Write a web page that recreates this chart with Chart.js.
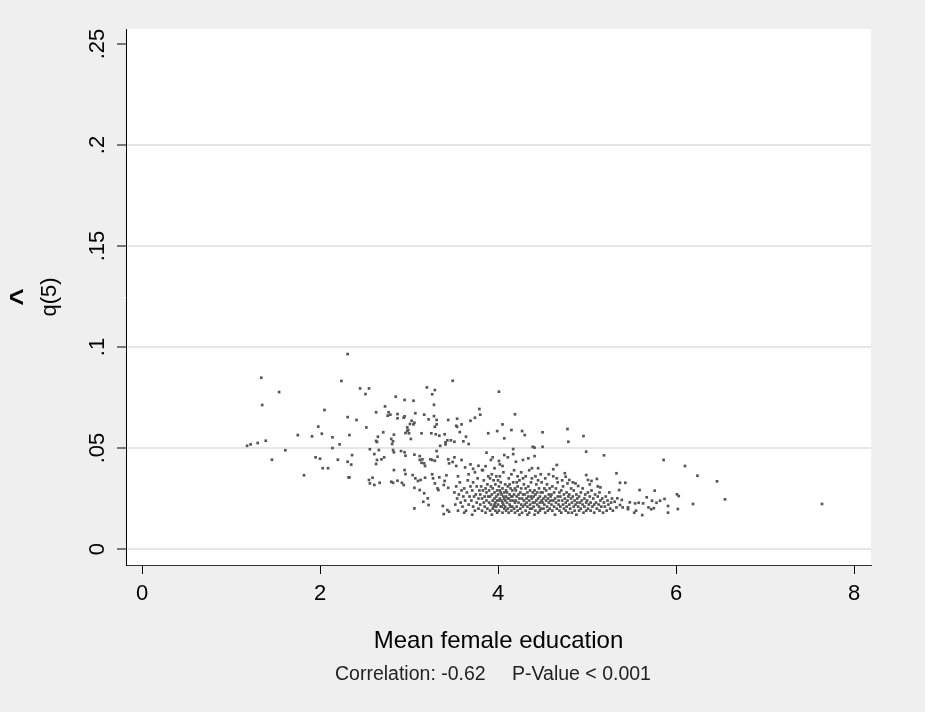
<!DOCTYPE html>
<html>
<head>
<meta charset="utf-8">
<script src="https://cdn.jsdelivr.net/npm/chart.js@4.4.0/dist/chart.umd.min.js"></script>
<style>
  html, body { margin: 0; padding: 0; background: #efefef; }
  canvas { display: block; }
</style>
</head>
<body>
<canvas id="q5Chart" width="925" height="712"></canvas>
<script>
// axis ticks
const xTickValues = [0, 2, 4, 6, 8];
const yTickValues = [0, 0.05, 0.1, 0.15, 0.2, 0.25];
const yTickLabels = ['0', '.05', '.1', '.15', '.2', '.25'];

const xTitle = 'Mean female education';
const yTitle = 'q(5)';
const noteLeft = 'Correlation: -0.62';
const noteRight = 'P-Value < 0.001';

// [mean female education, q(5)]
const lowEduPoints = [
  [1.18,.0511],[1.22,.0518],[1.30,.0525],[1.34,.0848],[1.35,.0713],[1.39,.0536],[1.46,.0442],
  [1.54,.0777],[1.61,.0489],[1.75,.0564],[1.82,.0365],[1.91,.0558],[1.95,.0454],[1.98,.0606],
  [2.00,.0447],[2.02,.0571],[2.03,.0400],[2.05,.0688],[2.09,.0400],[2.14,.0553],[2.14,.0500],
  [2.20,.0442],[2.22,.0518],[2.24,.0832],[2.31,.0965],[2.31,.0653],[2.31,.0432],[2.32,.0355],
  [2.33,.0355],[2.33,.0564],[2.35,.0418],[2.36,.0465]
];

const midEduPoints = [
  [3.49,.0833],[2.45,.0795],[2.55,.0795],[2.51,.0767],[3.20,.0800],[3.29,.0787],[3.26,.0766],
  [2.85,.0754],[2.95,.0738],[3.05,.0734],[3.28,.0714],[2.73,.0706],[2.63,.0677],[2.77,.0677],
  [2.79,.0665],[2.76,.0660],[2.87,.0668],[2.87,.0647],[3.07,.0672],[3.17,.0665],[3.28,.0658],
  [3.22,.0642],[2.95,.0657],[2.94,.0650],[2.41,.0639],[3.03,.0635],[3.06,.0625],[3.01,.0619],
  [3.05,.0617],[3.31,.0639],[3.31,.0617],[3.29,.0605],[3.44,.0639],[3.54,.0645],[3.53,.0610],
  [3.59,.0617],[3.69,.0635],[3.74,.0650],[3.79,.0693],[3.80,.0665],[2.52,.0602],[2.98,.0602],
  [2.98,.0584],[2.96,.0574],[3.00,.0573],[2.99,.0589],[3.14,.0573],[3.25,.0573],[3.30,.0568],
  [3.34,.0561],[2.71,.0578],[2.65,.0556],[2.64,.0530],[2.63,.0535],[2.83,.0566],[2.80,.0545],
  [2.82,.0533],[2.81,.0520],[3.02,.0545],[3.40,.0568],[3.43,.0538],[3.41,.0528],[3.47,.0538],
  [3.51,.0531],[3.54,.0605],[3.57,.0579],[3.64,.0556],[3.61,.0533],[3.67,.0520],[3.35,.0511],
  [3.31,.0485],[3.41,.0518],[2.56,.0494],[2.66,.0490],[2.61,.0470],[2.69,.0444],[2.72,.0454],
  [2.64,.0441],[2.63,.0421],[2.82,.0490],[2.83,.0479],[2.91,.0485],[2.95,.0479],[2.96,.0462],
  [3.06,.0467],[3.12,.0460],[3.12,.0441],[3.15,.0444],[3.17,.0424],[3.14,.0427],[3.18,.0411],
  [3.24,.0444],[3.29,.0437],[3.26,.0441],[3.32,.0457],[3.44,.0444],[3.51,.0454],[3.45,.0424],
  [3.49,.0431],[3.53,.0411],[3.59,.0441],[3.63,.0404],[3.69,.0419],[3.72,.0397],[3.78,.0412],
  [3.82,.0391],[2.83,.0391],[2.95,.0391],[2.96,.0371],[2.55,.0342],[2.59,.0353],[2.56,.0325],
  [2.61,.0317],[2.67,.0328],[2.80,.0333],[2.82,.0328],[2.87,.0338],[2.92,.0328],[2.94,.0317],
  [3.04,.0366],[3.07,.0350],[3.10,.0337],[3.13,.0342],[3.06,.0303],[3.18,.0353],[3.26,.0370],
  [3.27,.0350],[3.29,.0325],[3.32,.0300],[3.34,.0355],[3.40,.0337],[3.42,.0365],[3.12,.0292],
  [3.17,.0276],[3.21,.0251],[3.16,.0234],[3.22,.0218],[3.33,.0292],[3.39,.0317],[3.44,.0303],
  [3.06,.0201],[3.38,.0213],[3.43,.0193],[3.39,.0173],[3.45,.0185]
];

const upperBandPoints = [
  [4.01,.0779],[4.19,.0667],[4.05,.0617],[3.99,.0584],[4.15,.0589],[4.07,.0548],[3.89,.0573],
  [4.27,.0584],[4.30,.0564],[4.50,.0578],[4.50,.0506],[4.78,.0594],[4.79,.0531],[4.96,.0559],
  [4.39,.0506],[4.41,.0502],[4.99,.0482],[5.19,.0464],[4.17,.0495],[4.17,.0470],[4.07,.0465],
  [4.11,.0454],[3.87,.0477],[3.94,.0454],[3.92,.0441],[4.01,.0436],[4.02,.0419],[4.05,.0411],
  [4.20,.0432],[4.28,.0441],[4.34,.0449],[4.41,.0460],[4.38,.0400],[4.45,.0400],[4.62,.0395],
  [4.66,.0416],[4.75,.0375],[4.76,.0358],[4.80,.0342],[4.78,.0325],[4.87,.0325],[4.90,.0312],
  [4.99,.0366],[5.01,.0342],[5.05,.0337],[5.11,.0347],[5.15,.0305]
];

const denseBandPoints = [
  [3.51,.028],[3.52,.022],[3.53,.031],[3.54,.025],[3.55,.019],[3.56,.027],[3.57,.033],[3.58,.023],[3.59,.029],[3.55,.036],
  [3.60,.021],[3.61,.026],[3.62,.030],[3.63,.024],[3.64,.019],[3.65,.028],[3.66,.034],[3.67,.022],[3.68,.026],[3.69,.031],[3.62,.018],[3.67,.037],
  [3.70,.024],[3.71,.029],[3.72,.021],[3.72,.033],[3.73,.026],[3.74,.019],[3.75,.027],[3.76,.023],[3.76,.031],[3.77,.035],[3.78,.020],[3.78,.025],[3.79,.029],[3.74,.038],[3.71,.017],
  [3.80,.022],[3.80,.027],[3.81,.031],[3.82,.019],[3.82,.025],[3.83,.029],[3.84,.023],[3.84,.034],[3.85,.021],[3.85,.026],[3.86,.030],[3.86,.018],[3.87,.024],[3.87,.028],[3.88,.032],[3.88,.020],[3.89,.026],[3.89,.036],[3.83,.039],[3.86,.041],
  [3.90,.023],[3.90,.029],[3.91,.019],[3.91,.026],[3.92,.031],[3.92,.022],[3.93,.027],[3.93,.017],[3.94,.024],[3.94,.030],[3.95,.021],[3.95,.034],[3.96,.025],[3.96,.028],[3.97,.019],[3.97,.023],[3.97,.032],[3.98,.026],[3.98,.021],[3.99,.029],[3.99,.024],[3.99,.018],[3.93,.037],[3.96,.040],[3.91,.035],[3.98,.036],[3.94,.020],[3.96,.022],
  [4.00,.022],[4.00,.027],[4.01,.031],[4.01,.019],[4.02,.025],[4.02,.029],[4.03,.021],[4.03,.033],[4.04,.024],[4.04,.027],[4.05,.018],[4.05,.030],[4.06,.022],[4.06,.026],[4.07,.028],[4.07,.020],[4.08,.024],[4.08,.032],[4.09,.019],[4.09,.026],[4.01,.024],[4.03,.028],[4.05,.023],[4.07,.025],[4.09,.029],[4.02,.036],[4.06,.038],[4.04,.021],[4.08,.021],[4.00,.034],
  [4.10,.023],[4.10,.028],[4.11,.020],[4.11,.031],[4.12,.025],[4.12,.018],[4.13,.027],[4.13,.022],[4.14,.030],[4.14,.024],[4.15,.019],[4.15,.026],[4.16,.029],[4.16,.021],[4.17,.024],[4.17,.033],[4.18,.020],[4.18,.027],[4.19,.023],[4.19,.030],[4.12,.035],[4.15,.037],[4.18,.039],[4.11,.025],[4.14,.021],[4.16,.026],[4.19,.018],[4.13,.032],
  [4.20,.024],[4.20,.029],[4.21,.021],[4.21,.026],[4.22,.031],[4.22,.019],[4.23,.023],[4.23,.027],[4.24,.025],[4.24,.034],[4.25,.020],[4.25,.028],[4.26,.022],[4.26,.030],[4.27,.018],[4.27,.025],[4.28,.027],[4.28,.021],[4.29,.024],[4.29,.032],[4.22,.036],[4.26,.038],[4.24,.017],[4.28,.035],[4.21,.033],
  [4.30,.022],[4.30,.027],[4.31,.030],[4.31,.019],[4.32,.025],[4.32,.023],[4.33,.028],[4.33,.021],[4.34,.026],[4.34,.031],[4.35,.018],[4.35,.024],[4.36,.029],[4.36,.022],[4.37,.026],[4.37,.033],[4.38,.020],[4.38,.025],[4.39,.028],[4.39,.023],[4.31,.036],[4.35,.039],[4.38,.035],[4.33,.017],[4.36,.020],
  [4.40,.021],[4.40,.026],[4.41,.029],[4.41,.023],[4.42,.019],[4.42,.027],[4.43,.024],[4.43,.032],[4.44,.022],[4.44,.028],[4.45,.025],[4.45,.018],[4.46,.030],[4.46,.021],[4.47,.026],[4.47,.023],[4.48,.028],[4.48,.020],[4.49,.024],[4.49,.033],[4.42,.036],[4.45,.034],[4.48,.037],[4.41,.017],[4.47,.019],
  [4.50,.023],[4.50,.028],[4.51,.020],[4.51,.025],[4.52,.030],[4.52,.022],[4.53,.026],[4.53,.018],[4.54,.024],[4.54,.029],[4.55,.021],[4.55,.032],[4.56,.025],[4.56,.019],[4.57,.027],[4.57,.023],[4.58,.020],[4.58,.030],[4.59,.024],[4.59,.026],[4.53,.035],[4.57,.037],
  [4.60,.022],[4.60,.027],[4.61,.019],[4.61,.031],[4.62,.024],[4.63,.021],[4.63,.028],[4.64,.025],[4.64,.017],[4.65,.023],[4.65,.030],[4.66,.020],[4.67,.026],[4.67,.033],[4.68,.022],[4.68,.024],[4.69,.028],[4.69,.019],[4.62,.036],[4.66,.035],
  [4.70,.021],[4.70,.026],[4.71,.029],[4.71,.018],[4.72,.024],[4.73,.022],[4.73,.031],[4.74,.020],[4.74,.027],[4.75,.025],[4.76,.019],[4.76,.023],[4.77,.028],[4.77,.021],[4.78,.024],[4.79,.026],[4.79,.018],[4.72,.034],
  [4.80,.022],[4.80,.027],[4.81,.020],[4.82,.025],[4.82,.030],[4.83,.018],[4.83,.023],[4.84,.026],[4.85,.021],[4.85,.029],[4.86,.024],[4.86,.019],[4.87,.022],[4.88,.027],[4.88,.017],[4.89,.023],[4.89,.025],[4.84,.033],
  [4.90,.021],[4.91,.026],[4.91,.019],[4.92,.023],[4.93,.028],[4.93,.020],[4.94,.024],[4.95,.022],[4.95,.030],[4.96,.018],[4.97,.025],[4.97,.021],[4.98,.027],[4.99,.023],[4.99,.019],
  [5.00,.024],[5.01,.020],[5.01,.028],[5.02,.022],[5.03,.026],[5.04,.019],[5.04,.023],[5.05,.029],[5.06,.021],[5.07,.025],[5.08,.018],[5.08,.022],[5.09,.027],[5.03,.032],
  [5.10,.023],[5.11,.020],[5.12,.026],[5.13,.022],[5.14,.019],[5.14,.028],[5.15,.024],[5.16,.021],[5.17,.025],[5.18,.018],[5.19,.023],[5.12,.031],
  [5.20,.021],[5.21,.026],[5.22,.019],[5.23,.024],[5.24,.022],[5.25,.028],[5.26,.020],[5.27,.023],[5.28,.025],[5.29,.019]
];

const highEduPoints = [
  [5.86,.0441],[6.10,.0411],[6.24,.0363],[6.46,.0335],[6.55,.0246],[6.19,.0223],[6.01,.0271],
  [6.03,.0262],[6.02,.0198],[5.91,.0213],[5.91,.0180],[5.87,.0248],[5.82,.0239],[5.76,.0289],
  [5.78,.0229],[5.73,.0239],[5.72,.0197],[5.75,.0202],[5.69,.0206],[5.67,.0256],[5.63,.0226],
  [5.59,.0292],[5.58,.0229],[5.62,.0168],[5.54,.0226],[5.55,.0190],[5.53,.0180],[5.46,.0206],
  [5.46,.0197],[5.48,.0231],[5.43,.0328],[5.37,.0328],[5.36,.0292],[5.33,.0375],[5.39,.0243],
  [5.40,.0206],[5.34,.0251],[5.33,.0206],[5.37,.0218],[5.31,.0234],[7.64,.0223]
];

const allPoints = [...lowEduPoints, ...midEduPoints, ...upperBandPoints, ...denseBandPoints, ...highEduPoints]
  .map(p => ({ x: p[0], y: p[1] }));

const fontFamily = '"Liberation Sans", Arial, sans-serif';

// white plot region + hand placed titles (stata style)
const stataFrame = {
  id: 'stataFrame',
  beforeDraw(chart) {
    const { ctx, chartArea } = chart;
    ctx.save();
    ctx.fillStyle = '#ffffff';
    ctx.fillRect(chartArea.left, chartArea.top, chartArea.right - chartArea.left, chartArea.bottom - chartArea.top);
    ctx.restore();
  },
  afterDraw(chart) {
    const { ctx, chartArea } = chart;
    const yScale = chart.scales.y;
    ctx.save();
    ctx.fillStyle = '#000';
    ctx.textAlign = 'center';
    ctx.textBaseline = 'middle';

    // rotated y tick labels
    ctx.font = '22px ' + fontFamily;
    yTickValues.forEach((v, i) => {
      const py = yScale.getPixelForValue(v);
      ctx.save();
      ctx.translate(98, py);
      ctx.rotate(-Math.PI / 2);
      ctx.fillText(yTickLabels[i], 0, 0);
      ctx.restore();
    });

    // y title with hat
    const midY = (chartArea.top + chartArea.bottom) / 2;
    ctx.save();
    ctx.translate(50, midY);
    ctx.rotate(-Math.PI / 2);
    ctx.font = '22px ' + fontFamily;
    ctx.fillText(yTitle, 0, 0);
    ctx.restore();
    ctx.save();
    ctx.translate(22, midY);
    ctx.rotate(-Math.PI / 2);
    ctx.font = 'bold 30px ' + fontFamily;
    ctx.fillText('^', 0, 0);
    ctx.restore();

    // x title and note
    const midX = (chartArea.left + chartArea.right) / 2;
    ctx.font = '24px ' + fontFamily;
    ctx.fillText(xTitle, midX, 641);
    ctx.font = '19.5px ' + fontFamily;
    ctx.fillStyle = '#222';
    ctx.textAlign = 'left';
    ctx.fillText(noteLeft, 335, 675);
    ctx.fillText(noteRight, 512, 675);
    ctx.restore();
  }
};

new Chart(document.getElementById('q5Chart').getContext('2d'), {
  type: 'scatter',
  data: {
    datasets: [{
      label: 'q(5)',
      data: allPoints,
      pointStyle: 'rect',
      pointRadius: 1.9,
      pointBorderWidth: 0,
      backgroundColor: '#555555',
      borderColor: '#555555',
    }]
  },
  options: {
    responsive: false,
    animation: false,
    devicePixelRatio: 1,
    layout: { padding: { left: 0, top: 29, right: 54, bottom: 0 } },
    plugins: {
      legend: { display: false },
      tooltip: { enabled: false },
    },
    scales: {
      x: {
        type: 'linear',
        min: -0.18,
        max: 8.19,
        afterBuildTicks: s => { s.ticks = xTickValues.map(v => ({ value: v })); },
        afterFit: s => { s.height = 147; },
        grid: { drawOnChartArea: false, tickLength: 9, tickColor: '#000', tickWidth: 1 },
        border: { color: '#333', width: 1 },
        ticks: {
          color: '#000',
          padding: 7,
          maxRotation: 0,
          font: { size: 22, family: fontFamily },
        },
      },
      y: {
        type: 'linear',
        min: -0.0079,
        max: 0.2574,
        afterBuildTicks: s => { s.ticks = yTickValues.map(v => ({ value: v })); },
        afterFit: s => { s.width = 126; },
        grid: {
          color: ctx => (ctx.tick && ctx.tick.value >= 0.25 ? 'rgba(0,0,0,0)' : '#e6e6e6'),
          lineWidth: 2,
          tickLength: 9,
          tickColor: '#000',
          tickWidth: 1,
        },
        border: { color: '#000', width: 1 },
        ticks: { display: false },
      },
    },
  },
  plugins: [stataFrame],
});
</script>
</body>
</html>
